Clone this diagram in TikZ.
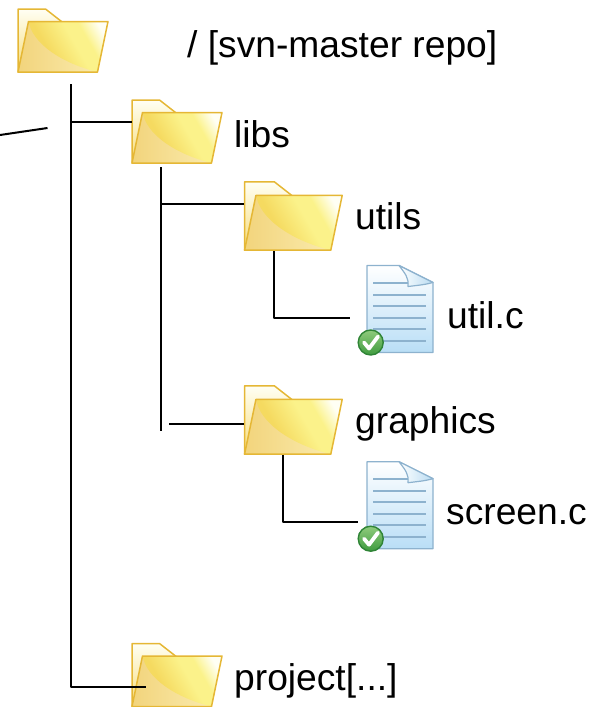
\documentclass[tikz,border=0pt]{standalone}
\usepackage{fontspec}
\setmainfont{Liberation Sans}
\begin{document}
\definecolor{fedge}{HTML}{E5B735}
\definecolor{fileedge}{HTML}{8DB2CE}
\definecolor{backlow}{HTML}{F6DC78}
\definecolor{lowa}{HTML}{F2D47C}
\definecolor{lowb}{HTML}{FBEEB4}
\definecolor{upa}{HTML}{F5DA60}
\definecolor{upb}{HTML}{FBF28A}
\definecolor{upc}{HTML}{FFFFF4}
\definecolor{filelow}{HTML}{B9DEF6}
\definecolor{foldr}{HTML}{B9DCF2}
\definecolor{greena}{HTML}{8FCB7C}
\definecolor{greenb}{HTML}{3F9B3F}
\definecolor{greene}{HTML}{2F8436}
\pgfdeclarehorizontalshading{fup}{100bp}{color(0bp)=(upa); color(36bp)=(upa); color(55bp)=(upb); color(64bp)=(upb); color(76bp)=(upc); color(100bp)=(upc)}
\newcommand{\folderat}[4]{%
  \begin{scope}[shift={(#2,#3)},xscale=#4,yscale=#4]
    \node[inner sep=0pt,minimum width=91pt,minimum height=64pt,anchor=north west,transform shape] (#1) at (0,0) {};
    \shade[top color=upc,bottom color=backlow,draw=fedge,line width=1.5pt,line join=round]
      (0.5,0.5) -- (28,0.5) -- (44,13) -- (60,30) -- (0.5,63.5) -- cycle;
    \begin{scope}
      \clip (11,13) -- (90.5,13) -- (80,63.5) -- (0.5,63.5) -- cycle;
      \shade[left color=lowa,right color=lowb]
        (0,10) rectangle (92,65);
      \shade[shading=fup,shading angle=30]
        (11,12) -- (92,12) -- (92,65) -- (80,63.5) .. controls (45,55) and (14,35) .. (11,12) -- cycle;
    \end{scope}
    \draw[fedge,line width=1.5pt,line join=round]
      (11,13) -- (90.5,13) -- (80,63.5) -- (0.5,63.5) -- cycle;
  \end{scope}}
\newcommand{\fileat}[3]{%
  \begin{scope}[shift={(#2,#3)}]
    \node[inner sep=0pt,minimum width=66pt,minimum height=87pt,anchor=north west] (#1) at (0,0) {};
    \shade[top color=white,bottom color=filelow,draw=fileedge,line width=1.4pt,line join=round]
      (0,0) -- (32,0) -- (66,17) -- (66,87) -- (0,87) -- cycle;
    \foreach \yy in {17,29,40,52,63.5,75}{
      \draw[fileedge,line width=2pt] (6,\yy) -- (59,\yy);}
    \shade[left color=white,right color=foldr,draw=fileedge,line width=1.2pt,line join=round]
      (32,0) -- (66,17) .. controls (58,19) .. (41,21) .. controls (42,12) and (38,8) .. (32,0) -- cycle;
    \shade[top color=greena,bottom color=greenb,draw=greene,line width=1.4pt]
      (3.7,77) circle (12.5);
    \draw[white,line width=3.8pt,line cap=round,line join=round] (-3,77) -- (2,83) -- (11,71);
  \end{scope}}
\begin{tikzpicture}[x=1pt,y=-1pt,
  wire/.style={line width=2pt,black,line join=round},
  lbl/.style={anchor=base west,inner sep=0pt,font=\fontsize{37.2}{40}\selectfont,text=black}]
\useasboundingbox (0,0) rectangle (599,707);
\folderat{rootf}{17.5}{8.5}{1}
\folderat{libsf}{131.5}{99.5}{1}
\folderat{utilsf}{244}{181.3}{1.085}
\folderat{graphf}{244}{385.3}{1.085}
\folderat{projf}{131.5}{643}{1}
\fileat{utilf}{367}{265.5}
\fileat{screenf}{367}{461.7}
\node[lbl] (t0) at (187,57) {/ [svn-master repo]};
\node[lbl] (t1) at (234,147) {libs};
\node[lbl] (t2) at (355,229) {utils};
\node[lbl] (t3) at (447,328) {util.c};
\node[lbl] (t4) at (355,433) {graphics};
\node[lbl] (t5) at (446,524) {screen.c};
\node[lbl] (t6) at (234,690) {project[...]};
\coordinate (rt) at (70.5,84);
\coordinate (rb) at (70.5,687);
\coordinate (pe) at (146,687);
\coordinate (j1) at (70.5,121.5);
\coordinate (s1) at (0,135);
\coordinate (s2) at (47.5,128);
\coordinate (lt) at (161,167);
\coordinate (lb) at (161,431);
\coordinate (j2) at (161,204);
\coordinate (j3) at (169,424);
\coordinate (ut) at (274.3,251);
\coordinate (ub) at (274.3,318);
\coordinate (ue) at (350,318);
\coordinate (gt) at (282.5,455);
\coordinate (gb) at (282.5,521.5);
\coordinate (ge) at (357.5,521.5);
\draw[wire] (s1) -- (s2);
\draw[wire] (rt) -- (rb) -- (pe);
\draw[wire] (j1) -- (j1 -| libsf.west);
\draw[wire] (lt) -- (lb);
\draw[wire] (j2) -- (j2 -| utilsf.west);
\draw[wire] (j3) -- (j3 -| graphf.west);
\draw[wire] (ut) -- (ub) -- (ue);
\draw[wire] (gt) -- (gb) -- (ge);
\end{tikzpicture}
\end{document}
